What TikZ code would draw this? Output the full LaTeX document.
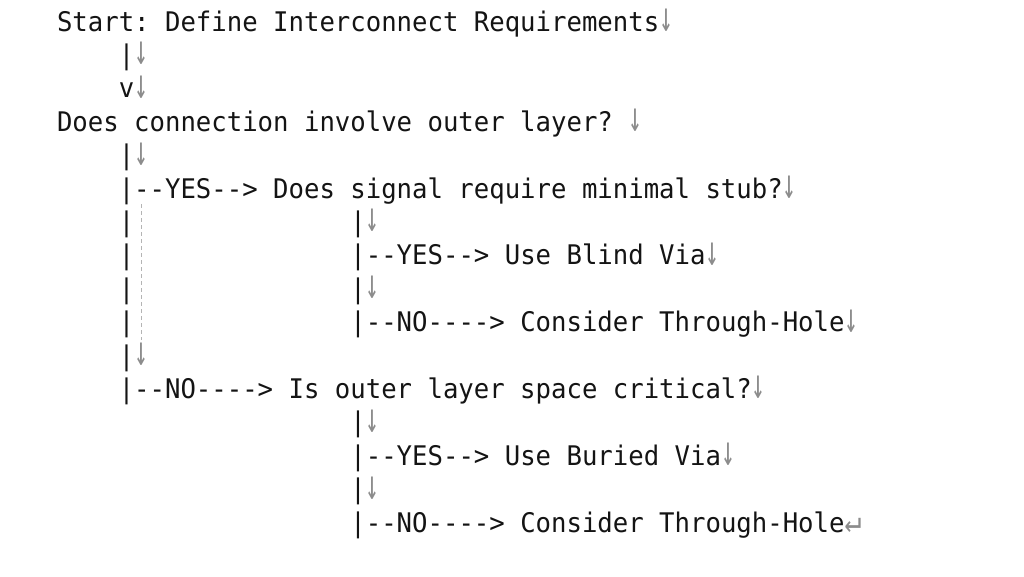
\documentclass[tikz,border=0pt]{standalone}
\usepackage{fontspec}
\setmonofont{DejaVu Sans Mono}[FakeStretch=0.95]
\definecolor{txt}{HTML}{141414}
\definecolor{arrgray}{HTML}{8C8C8C}
\definecolor{guidegray}{HTML}{B4B4B4}
\newcommand{\ar}{\textcolor{arrgray}{\raisebox{-0.5pt}{\makebox[0.6em][l]{\scalebox{0.9}[1.55]{↓}}}}}
\newcommand{\rt}{\textcolor{arrgray}{\makebox[0.6em][l]{\scalebox{1.1}[1.25]{↵}}}}
\newcommand{\colx}[1]{57+#1*15.443}
\newcommand{\rowy}[1]{31+#1*33.4}
\begin{document}
\begin{tikzpicture}[x=1pt,y=-1pt,
  ln/.style={anchor=base west,inner sep=0pt,outer sep=0pt,text=txt,font=\ttfamily\fontsize{27}{33}\selectfont},
  guide/.style={draw=guidegray,line width=0.9pt,dash pattern=on 4pt off 3pt}]
\useasboundingbox[fill=white] (0,0) rectangle (1024,576);
\node[ln] (l0)  at ({\colx{0}},{\rowy{0}}) {Start: Define Interconnect Requirements\ar};
\node[ln] (l1)  at ({\colx{4}},{\rowy{1}}) {|\ar};
\node[ln] (l2)  at ({\colx{4}},{\rowy{2}}) {v\ar};
\node[ln] (l3)  at ({\colx{0}},{\rowy{3}}) {Does connection involve outer layer? \ar};
\node[ln] (l4)  at ({\colx{4}},{\rowy{4}}) {|\ar};
\node[ln] (l5)  at ({\colx{4}},{\rowy{5}}) {|--YES--> Does signal require minimal stub?\ar};
\node[ln] (l6a) at ({\colx{4}},{\rowy{6}}) {|};
\node[ln] (l6b) at ({\colx{19}},{\rowy{6}}) {|\ar};
\node[ln] (l7a) at ({\colx{4}},{\rowy{7}}) {|};
\node[ln] (l7b) at ({\colx{19}},{\rowy{7}}) {|--YES--> Use Blind Via\ar};
\node[ln] (l8a) at ({\colx{4}},{\rowy{8}}) {|};
\node[ln] (l8b) at ({\colx{19}},{\rowy{8}}) {|\ar};
\node[ln] (l9a) at ({\colx{4}},{\rowy{9}}) {|};
\node[ln] (l9b) at ({\colx{19}},{\rowy{9}}) {|--NO----> Consider Through-Hole\ar};
\node[ln] (l10) at ({\colx{4}},{\rowy{10}}) {|\ar};
\node[ln] (l11) at ({\colx{4}},{\rowy{11}}) {|--NO----> Is outer layer space critical?\ar};
\node[ln] (l12) at ({\colx{19}},{\rowy{12}}) {|\ar};
\node[ln] (l13) at ({\colx{19}},{\rowy{13}}) {|--YES--> Use Buried Via\ar};
\node[ln] (l14) at ({\colx{19}},{\rowy{14}}) {|\ar};
\node[ln] (l15) at ({\colx{19}},{\rowy{15}}) {|--NO----> Consider Through-Hole\rt};
\coordinate (g1) at (141,204);
\coordinate (g2) at (141,340);
\draw[guide] (g1) -- (g2);
\end{tikzpicture}
\end{document}
